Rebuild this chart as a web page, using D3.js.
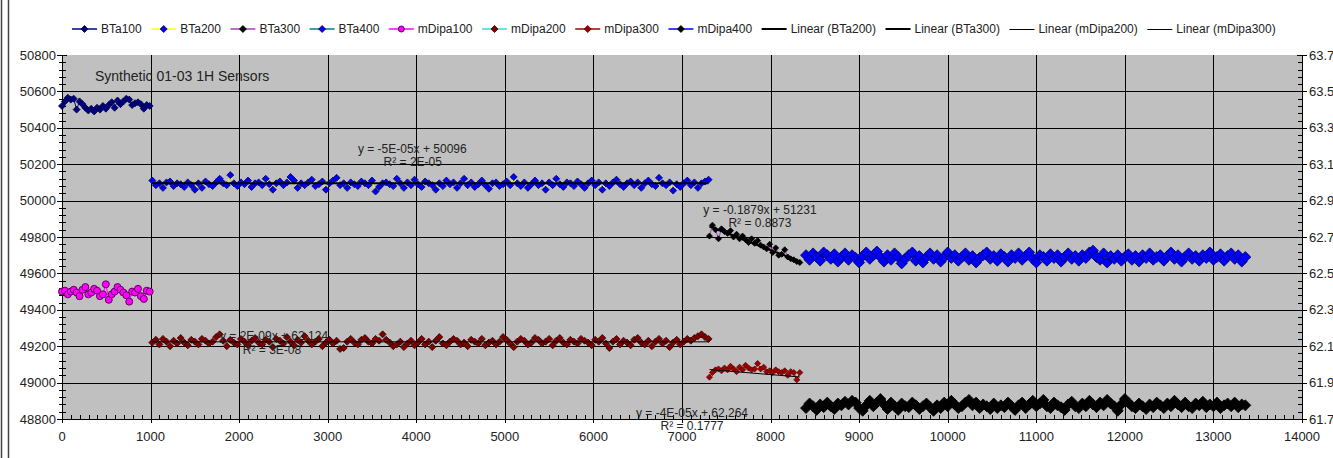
<!DOCTYPE html>
<html>
<head>
<meta charset="utf-8">
<script src="https://cdn.jsdelivr.net/npm/d3@7"></script>
<style>
  body { margin: 0; background: #fff; }
  svg { display: block; font-family: Arial, "Liberation Sans", sans-serif; }
</style>
</head>
<body>
<svg id="chart" width="1333" height="458"></svg>
<script>
// ---- sample timing for each measurement block (start time, interval) ----
const blockStart = [0, 1020, 7310, 8400];
const blockStep  = [33, 40, 34, 40];

// ---- BTa sensors (left axis) ----
const bta100 = [50520, 50545, 50565, 50555, 50560, 50500, 50545, 50530, 50510, 50495,
  50505, 50490, 50510, 50500, 50520, 50505, 50525, 50540, 50510, 50550,
  50530, 50545, 50560, 50555, 50525, 50535, 50540, 50530, 50505, 50525, 50520];

const bta200 = [50110, 50085, 50095, 50070, 50100, 50105, 50080, 50095, 50090, 50075,
  50100, 50085, 50060, 50095, 50070, 50105, 50090, 50080, 50100, 50120,
  50095, 50085, 50140, 50095, 50080, 50100, 50090, 50110, 50075, 50095,
  50100, 50085, 50120, 50090, 50060, 50095, 50105, 50085, 50100, 50130,
  50110, 50070, 50095, 50085, 50100, 50115, 50080, 50090, 50105, 50060,
  50095, 50110, 50125, 50085, 50095, 50070, 50100, 50090, 50080, 50105,
  50095, 50085, 50110, 50050, 50075, 50095, 50100, 50090, 50080, 50120,
  50095, 50070, 50100, 50085, 50115, 50090, 50075, 50105, 50095, 50085,
  50060, 50095, 50080, 50110, 50090, 50100, 50070, 50095, 50120, 50085,
  50100, 50075, 50090, 50110, 50085, 50065, 50095, 50100, 50080, 50090,
  50105, 50085, 50130, 50095, 50080, 50100, 50070, 50090, 50110, 50085,
  50095, 50060, 50100, 50085, 50120, 50090, 50075, 50100, 50095, 50080,
  50105, 50090, 50070, 50095, 50110, 50085, 50100, 50060, 50095, 50080,
  50100, 50115, 50090, 50075, 50095, 50105, 50085, 50100, 50070, 50095,
  50110, 50090, 50080, 50125, 50095, 50085, 50100, 50055, 50090, 50075,
  50095, 50110, 50085, 50100, 50070, 50095, 50105, 50115];

const bta300 = [49805, 49865, 49840, 49790, 49845, 49830, 49820, 49835, 49800, 49815,
  49790, 49805, 49785, 49770, 49790, 49765, 49780, 49755, 49745, 49735,
  49760, 49715, 49740, 49700, 49705, 49730, 49690, 49680, 49675, 49665, 49660];

const bta400 = [49700, 49675, 49710, 49690, 49670, 49715, 49700, 49680, 49705, 49665,
  49690, 49710, 49675, 49700, 49685, 49660, 49695, 49715, 49680, 49700,
  49720, 49690, 49665, 49700, 49675, 49710, 49690, 49655, 49680, 49700,
  49715, 49670, 49695, 49660, 49690, 49710, 49680, 49700, 49665, 49690,
  49715, 49685, 49700, 49670, 49690, 49710, 49675, 49695, 49660, 49685,
  49700, 49715, 49680, 49695, 49670, 49705, 49690, 49665, 49700, 49685,
  49710, 49675, 49695, 49715, 49680, 49660, 49700, 49690, 49670, 49705,
  49685, 49700, 49665, 49690, 49710, 49680, 49695, 49670, 49700, 49685,
  49715, 49725, 49690, 49675, 49710, 49660, 49695, 49680, 49700, 49670,
  49690, 49705, 49675, 49695, 49665, 49700, 49685, 49710, 49675, 49690,
  49700, 49670, 49695, 49715, 49680, 49700, 49665, 49690, 49710, 49680,
  49695, 49670, 49700, 49685, 49715, 49675, 49690, 49705, 49670, 49695,
  49710, 49680, 49700, 49665, 49690];

// ---- mDipa sensors (right axis) ----
const mdipa100 = [62.400, 62.405, 62.385, 62.400, 62.410, 62.395, 62.375, 62.410, 62.425, 62.385,
  62.395, 62.415, 62.405, 62.375, 62.385, 62.440, 62.355, 62.385, 62.400, 62.425,
  62.410, 62.395, 62.380, 62.345, 62.400, 62.395, 62.415, 62.375, 62.360, 62.405, 62.400];

const mdipa200 = [62.120, 62.135, 62.110, 62.140, 62.125, 62.100, 62.130, 62.115, 62.145, 62.120,
  62.105, 62.135, 62.125, 62.110, 62.140, 62.130, 62.115, 62.125, 62.150, 62.165,
  62.130, 62.100, 62.135, 62.120, 62.110, 62.140, 62.125, 62.105, 62.130, 62.145,
  62.120, 62.110, 62.135, 62.125, 62.095, 62.140, 62.130, 62.115, 62.150, 62.125,
  62.105, 62.135, 62.120, 62.155, 62.130, 62.110, 62.125, 62.140, 62.100, 62.120,
  62.135, 62.115, 62.130, 62.085, 62.090, 62.125, 62.140, 62.120, 62.110, 62.135,
  62.145, 62.125, 62.115, 62.140, 62.130, 62.165, 62.135, 62.120, 62.100, 62.110,
  62.125, 62.095, 62.115, 62.130, 62.105, 62.120, 62.140, 62.110, 62.125, 62.095,
  62.130, 62.150, 62.115, 62.105, 62.125, 62.140, 62.130, 62.110, 62.120, 62.100,
  62.135, 62.125, 62.115, 62.140, 62.105, 62.120, 62.130, 62.110, 62.125, 62.150,
  62.135, 62.115, 62.095, 62.125, 62.140, 62.130, 62.110, 62.120, 62.145, 62.135,
  62.115, 62.125, 62.140, 62.105, 62.130, 62.145, 62.120, 62.110, 62.135, 62.125,
  62.115, 62.140, 62.130, 62.120, 62.105, 62.135, 62.125, 62.145, 62.115, 62.090,
  62.125, 62.140, 62.110, 62.130, 62.120, 62.105, 62.135, 62.145, 62.120, 62.110,
  62.130, 62.100, 62.125, 62.140, 62.115, 62.130, 62.095, 62.120, 62.135, 62.110,
  62.125, 62.140, 62.130, 62.145, 62.155, 62.165, 62.150, 62.140];

const mdipa300 = [61.930, 61.955, 61.970, 61.975, 61.965, 61.980, 61.970, 61.990, 61.975, 61.960,
  61.985, 61.970, 61.995, 61.980, 61.970, 61.975, 62.005, 61.975, 61.985, 61.960,
  61.965, 61.955, 61.970, 61.960, 61.955, 61.965, 61.940, 61.960, 61.955, 61.915, 61.955];

const mdipa400 = [61.760, 61.785, 61.770, 61.750, 61.780, 61.765, 61.790, 61.770, 61.755, 61.785,
  61.775, 61.795, 61.780, 61.800, 61.790, 61.760, 61.745, 61.775, 61.800, 61.770,
  61.790, 61.810, 61.780, 61.755, 61.790, 61.770, 61.750, 61.785, 61.770, 61.765,
  61.790, 61.775, 61.755, 61.770, 61.785, 61.765, 61.745, 61.775, 61.760, 61.790,
  61.770, 61.800, 61.780, 61.760, 61.770, 61.790, 61.805, 61.775, 61.790, 61.760,
  61.780, 61.770, 61.755, 61.785, 61.760, 61.775, 61.765, 61.790, 61.770, 61.750,
  61.775, 61.790, 61.760, 61.780, 61.800, 61.770, 61.785, 61.805, 61.770, 61.760,
  61.790, 61.775, 61.765, 61.750, 61.780, 61.795, 61.770, 61.760, 61.785, 61.770,
  61.800, 61.780, 61.765, 61.790, 61.775, 61.805, 61.785, 61.770, 61.745, 61.780,
  61.810, 61.790, 61.770, 61.760, 61.785, 61.770, 61.755, 61.780, 61.765, 61.790,
  61.775, 61.760, 61.785, 61.770, 61.800, 61.780, 61.765, 61.790, 61.770, 61.760,
  61.785, 61.775, 61.795, 61.765, 61.780, 61.770, 61.790, 61.760, 61.775, 61.785,
  61.770, 61.790, 61.765, 61.780, 61.775];

// ---- linear trend fits: [slope, intercept] and R² ----
const fitBTa200   = [-5e-5, 50096];
const fitBTa300   = [-0.1879, 51231];
const fitMDipa200 = [2e-9, 62.124];
const fitMDipa300 = [-4e-5, 62.264];
const fitLabels = [
  ["y = -5E-05x + 50096", "R² = 2E-05"],
  ["y = -0.1879x + 51231", "R² = 0.8873"],
  ["y = 2E-09x + 62.124", "R² = 3E-08"],
  ["y = -4E-05x + 62.264", "R² = 0.1777"]
];

// ---- axis ticks ----
const xTicks = d3.range(0, 14001, 1000);
const leftTicks = d3.range(48800, 50801, 200);
const rightTicks = [61.7, 61.9, 62.1, 62.3, 62.5, 62.7, 62.9, 63.1, 63.3, 63.5, 63.7];

const titleText = "Synthetic 01-03 1H Sensors";

// ---------------------------------------------------------------
const svg = d3.select("#chart");
const W = 1333, H = 458;
const plot = { left: 62, right: 1302, top: 55, bottom: 419 };

const x  = d3.scaleLinear().domain([0, 14000]).range([plot.left, plot.right]);
const yL = d3.scaleLinear().domain([48800, 50800]).range([plot.bottom, plot.top]);
const yR = d3.scaleLinear().domain([61.7, 63.7]).range([plot.bottom, plot.top]);

// window frame on the left edge
svg.append("line").attr("x1", 1.5).attr("x2", 1.5).attr("y1", 0).attr("y2", H)
  .attr("stroke", "#444").attr("stroke-width", 1.5);
svg.append("line").attr("x1", 8.5).attr("x2", 8.5).attr("y1", 0).attr("y2", H)
  .attr("stroke", "#444").attr("stroke-width", 1.5);

// plot area
svg.append("rect")
  .attr("x", plot.left).attr("y", plot.top)
  .attr("width", plot.right - plot.left).attr("height", plot.bottom - plot.top)
  .attr("fill", "#c0c0c0");

// gridlines
const grid = svg.append("g").attr("stroke", "#000").attr("stroke-width", 1).attr("shape-rendering", "crispEdges");
xTicks.filter(t => t > 0 && t < 14000).forEach(t => {
  grid.append("line").attr("x1", Math.round(x(t)) + 0.5).attr("x2", Math.round(x(t)) + 0.5)
    .attr("y1", plot.top).attr("y2", plot.bottom);
});
leftTicks.filter(t => t > 48800 && t < 50800).forEach(t => {
  grid.append("line").attr("x1", plot.left).attr("x2", plot.right)
    .attr("y1", Math.round(yL(t)) + 0.5).attr("y2", Math.round(yL(t)) + 0.5);
});

// axes
const axes = svg.append("g").attr("stroke", "#000").attr("shape-rendering", "crispEdges");
axes.append("line").attr("x1", plot.left + 0.5).attr("x2", plot.left + 0.5).attr("y1", plot.top).attr("y2", plot.bottom);
axes.append("line").attr("x1", plot.right + 0.5).attr("x2", plot.right + 0.5).attr("y1", plot.top).attr("y2", plot.bottom);
axes.append("line").attr("x1", plot.left).attr("x2", plot.right).attr("y1", plot.bottom + 0.5).attr("y2", plot.bottom + 0.5);

// left axis ticks (cross style, minor every 40)
d3.range(48800, 50801, 40).forEach(v => {
  const major = (v - 48800) % 200 === 0;
  const yy = Math.round(yL(v)) + 0.5;
  axes.append("line").attr("x1", plot.left - (major ? 5 : 3)).attr("x2", plot.left + (major ? 5 : 4))
    .attr("y1", yy).attr("y2", yy);
});
// right axis ticks
d3.range(0, 51).forEach(i => {
  const major = i % 5 === 0;
  const yy = Math.round(yR(61.7 + i * 0.04)) + 0.5;
  axes.append("line").attr("x1", plot.right - (major ? 5 : 4)).attr("x2", plot.right + (major ? 5 : 0))
    .attr("y1", yy).attr("y2", yy);
});
// bottom axis ticks (minor every 100, inside)
d3.range(0, 14001, 100).forEach(v => {
  const major = v % 1000 === 0;
  const xx = Math.round(x(v)) + 0.5;
  axes.append("line").attr("x1", xx).attr("x2", xx)
    .attr("y1", plot.bottom - (major ? 5 : 4)).attr("y2", plot.bottom + (major ? 4 : 0));
});

// tick labels
const lab = svg.append("g").attr("font-size", 13).attr("fill", "#222");
leftTicks.forEach(t => {
  lab.append("text").attr("x", 56).attr("y", yL(t)).attr("dy", "0.35em")
    .attr("text-anchor", "end").text(t);
});
rightTicks.forEach(t => {
  lab.append("text").attr("x", 1309).attr("y", yR(t)).attr("dy", "0.35em")
    .attr("text-anchor", "start").text(d3.format(".1f")(t));
});
xTicks.forEach(t => {
  lab.append("text").attr("x", x(t)).attr("y", 436).attr("dy", "0.35em")
    .attr("text-anchor", "middle").text(t);
});

// title inside plot
svg.append("text").attr("x", 95).attr("y", 76).attr("dy", "0.35em")
  .attr("font-size", 14).attr("fill", "#222").text(titleText);

// ---- series ----
function diamond(r) { return `M0,${-r}L${r},0L0,${r}L${-r},0Z`; }

const series = [
  { name: "BTa100",   vals: bta100,   block: 0, y: yL, line: "#000080", fill: "#000080", stroke: "#000040", shape: "d", r: 3.5 },
  { name: "BTa200",   vals: bta200,   block: 1, y: yL, line: "#ffff00", fill: "#0000ff", stroke: "#000060", shape: "d", r: 3.5 },
  { name: "BTa300",   vals: bta300,   block: 2, y: yL, line: "#a040c0", fill: "#000000", stroke: "#000000", shape: "d", r: 3 },
  { name: "BTa400",   vals: bta400,   block: 3, y: yL, line: "#008080", fill: "#0000ff", stroke: "#000050", shape: "d", r: 5.5 },
  { name: "mDipa100", vals: mdipa100, block: 0, y: yR, line: "#ff00ff", fill: "#ff00ff", stroke: "#600060", shape: "c", r: 3.5 },
  { name: "mDipa200", vals: mdipa200, block: 1, y: yR, line: "#33dddd", fill: "#800000", stroke: "#300000", shape: "d", r: 3.5 },
  { name: "mDipa300", vals: mdipa300, block: 2, y: yR, line: "#a00000", fill: "#a00000", stroke: "#600000", shape: "d", r: 3 },
  { name: "mDipa400", vals: mdipa400, block: 3, y: yR, line: "#0000ff", fill: "#000000", stroke: "#000000", shape: "d", r: 5.5 }
];

const sg = svg.append("g");
series.forEach(s => {
  const pts = s.vals.map((v, i) => [blockStart[s.block] + i * blockStep[s.block], v]);
  const ln = d3.line().x(d => x(d[0])).y(d => s.y(d[1]));
  sg.append("path").attr("d", ln(pts)).attr("fill", "none")
    .attr("stroke", s.line).attr("stroke-width", 1);
  const m = sg.append("g");
  pts.forEach(p => {
    if (s.shape === "c") {
      m.append("circle").attr("cx", x(p[0])).attr("cy", s.y(p[1])).attr("r", s.r)
        .attr("fill", s.fill).attr("stroke", s.stroke).attr("stroke-width", 1);
    } else {
      m.append("path").attr("d", diamond(s.r))
        .attr("transform", `translate(${x(p[0])},${s.y(p[1])})`)
        .attr("fill", s.fill).attr("stroke", s.stroke).attr("stroke-width", 0.8);
    }
  });
});

// ---- trendlines ----
const trends = [
  { fit: fitBTa200,   block: 1, n: bta200.length,   y: yL, w: 2 },
  { fit: fitBTa300,   block: 2, n: bta300.length,   y: yL, w: 2 },
  { fit: fitMDipa200, block: 1, n: mdipa200.length, y: yR, w: 1 },
  { fit: fitMDipa300, block: 2, n: mdipa300.length, y: yR, w: 1 }
];
trends.forEach(t => {
  const x0 = blockStart[t.block], x1 = blockStart[t.block] + (t.n - 1) * blockStep[t.block];
  sg.append("line")
    .attr("x1", x(x0)).attr("y1", t.y(t.fit[0] * x0 + t.fit[1]))
    .attr("x2", x(x1)).attr("y2", t.y(t.fit[0] * x1 + t.fit[1]))
    .attr("stroke", "#000").attr("stroke-width", t.w);
});

// ---- trend equations, anchored in data space ----
const labelAnchors = [
  { y: yL, at: [3955, 50283], r2: [3960, 50212] },
  { y: yL, at: [7880, 49948], r2: [7880, 49877] },
  { y: yR, at: [2394, 62.156], r2: [2371, 62.079] },
  { y: yR, at: [7113, 61.733], r2: [7113, 61.661] }
];
const tl = svg.append("g").attr("font-size", 12).attr("fill", "#222").attr("text-anchor", "middle");
labelAnchors.forEach((a, i) => {
  tl.append("text").attr("x", x(a.at[0])).attr("y", a.y(a.at[1])).attr("dy", "0.35em").text(fitLabels[i][0]);
  tl.append("text").attr("x", x(a.r2[0])).attr("y", a.y(a.r2[1])).attr("dy", "0.35em").text(fitLabels[i][1]);
});

// ---- legend ----
const legendItems = series.map(s => ({ name: s.name, line: s.line, fill: s.fill, stroke: s.stroke, shape: s.shape, w: 1.5 }))
  .concat([
    { name: "Linear (BTa200)",   line: "#000", w: 2 },
    { name: "Linear (BTa300)",   line: "#000", w: 2 },
    { name: "Linear (mDipa200)", line: "#000", w: 1 },
    { name: "Linear (mDipa300)", line: "#000", w: 1 }
  ]);
const lg = svg.append("g").attr("font-size", 12).attr("fill", "#222");
let cx = 72;
const ly = 29;
legendItems.forEach(it => {
  lg.append("line").attr("x1", cx).attr("x2", cx + 25)
    .attr("y1", it.w === 1 ? ly + 0.5 : ly).attr("y2", it.w === 1 ? ly + 0.5 : ly)
    .attr("stroke", it.line).attr("stroke-width", it.w);
  if (it.shape === "c") {
    lg.append("circle").attr("cx", cx + 12.5).attr("cy", ly).attr("r", 3)
      .attr("fill", it.fill).attr("stroke", it.stroke);
  } else if (it.shape === "d") {
    lg.append("path").attr("d", diamond(3.5)).attr("transform", `translate(${cx + 12.5},${ly})`)
      .attr("fill", it.fill).attr("stroke", it.stroke).attr("stroke-width", 0.8);
  }
  const t = lg.append("text").attr("x", cx + 29).attr("y", ly).attr("dy", "0.35em").text(it.name);
  cx += 29 + t.node().getComputedTextLength() + 9.5;
});
</script>
</body>
</html>
